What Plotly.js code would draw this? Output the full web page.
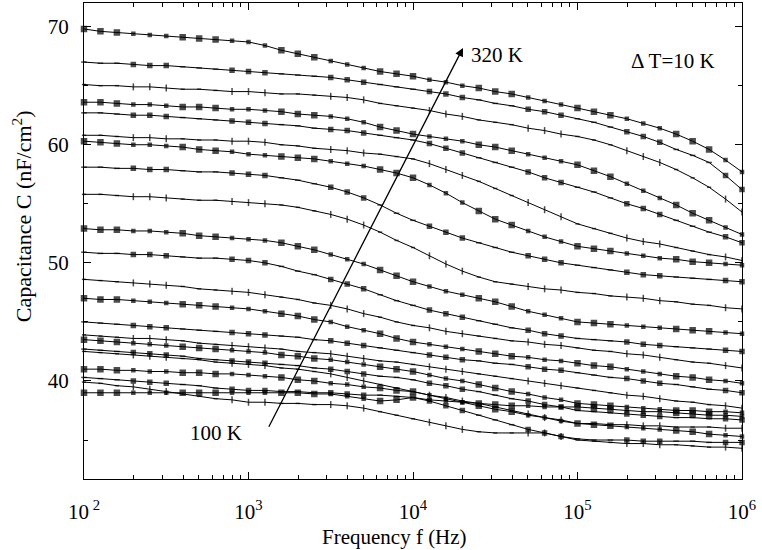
<!DOCTYPE html>
<html>
<head>
<meta charset="utf-8">
<script src="https://cdn.plot.ly/plotly-3.0.1.min.js"></script>
<style>html,body{margin:0;padding:0;background:#fff;}#chart{width:762px;height:550px;}</style>
</head>
<body>
<div id="chart"></div>
<script>
// Frequency grid (Hz)
var freq = [100, 125.9, 158.5, 199.5, 251.2, 316.2, 398.1, 501.2, 631.0, 794.3,
  1000, 1259, 1585, 1995, 2512, 3162, 3981, 5012, 6310, 7943,
  10000, 12589, 15849, 19953, 25119, 31623, 39811, 50119, 63096, 79433,
  100000, 125893, 158489, 199526, 251189, 316228, 398107, 501187, 630957, 794328,
  1000000];

// Capacitance curves (nF/cm^2), highest temperature first
var cA = [69.8,69.6,69.5,69.4,69.3, 69.2,69.1,69.0,68.9,68.8, 68.7,68.4,68.0,67.7,67.4, 67.1,66.8,66.5,66.2,66.0, 65.8,65.5,65.3,65.0,64.8, 64.5,64.3,64.0,63.7,63.4, 63.1,62.8,62.5,62.2,61.8, 61.4,60.9,60.3,59.6,58.7, 57.7];
var cB = [67.0,66.9,66.9,66.8,66.7, 66.7,66.6,66.5,66.4,66.3, 66.2,66.1,66.0,65.9,65.8, 65.7,65.5,65.3,65.1,64.9, 64.7,64.5,64.3,64.0,63.8, 63.5,63.3,63.0,62.8,62.5, 62.2,61.9,61.5,61.1,60.7, 60.2,59.6,59.1,58.5,57.4, 56.2];
var cC = [65.1,65.0,65.0,64.9,64.9, 64.8,64.7,64.7,64.6,64.5, 64.5,64.4,64.3,64.3,64.2, 64.1,64.0,63.8,63.5,63.3, 63.1,62.9,62.6,62.4,62.1, 61.9,61.7,61.4,61.2,60.9, 60.7,60.4,60.0,59.5,59.0, 58.5,57.9,57.2,56.4,55.4, 54.3];
var cD = [63.6,63.6,63.5,63.4,63.4, 63.3,63.2,63.2,63.1,63.0, 63.0,62.9,62.8,62.6,62.5, 62.4,62.2,61.9,61.5,61.2, 60.9,60.7,60.5,60.3,60.0, 59.8,59.5,59.2,58.9,58.6, 58.3,57.8,57.3,56.7,56.1, 55.5,54.9,54.2,53.6,53.0, 52.4];
var cE = [62.7,62.7,62.6,62.5,62.5, 62.4,62.3,62.2,62.1,62.0, 61.9,61.8,61.7,61.6,61.4, 61.3,61.2,61.0,60.8,60.6, 60.4,60.1,59.7,59.3,58.9, 58.5,58.1,57.7,57.2,56.8, 56.4,56.0,55.5,55.0,54.6, 54.1,53.6,53.1,52.6,52.2, 51.7];
var cF = [60.8,60.8,60.7,60.6,60.6, 60.5,60.5,60.4,60.4,60.3, 60.3,60.2,60.0,59.9,59.7, 59.6,59.5,59.3,59.2,59.0, 58.8,58.4,57.9,57.4,56.9, 56.3,55.7,55.1,54.5,53.9, 53.3,52.9,52.5,52.1,51.8, 51.6,51.3,51.0,50.7,50.5, 50.2];
var cG = [60.3,60.2,60.1,60.0,60.0, 59.9,59.8,59.6,59.5,59.4, 59.2,59.1,59.0,58.9,58.8, 58.6,58.4,58.2,57.9,57.6, 57.2,56.6,55.9,55.1,54.4, 53.7,53.2,52.7,52.2,51.8, 51.4,51.2,51.0,50.8,50.6, 50.4,50.3,50.1,50.0,49.9, 49.8];
var cH = [58.1,58.1,58.0,58.0,57.9, 57.9,57.8,57.7,57.7,57.6, 57.5,57.4,57.2,57.0,56.7, 56.4,56.0,55.5,54.9,54.2, 53.6,53.1,52.6,52.1,51.7, 51.3,50.9,50.6,50.3,50.0, 49.8,49.6,49.4,49.2,49.0, 48.9,48.8,48.7,48.6,48.5, 48.4];
var cI = [55.8,55.8,55.7,55.6,55.6, 55.5,55.4,55.3,55.3,55.2, 55.1,55.0,54.9,54.7,54.4, 54.1,53.7,53.2,52.6,51.9, 51.3,50.6,49.9,49.3,48.8, 48.4,48.2,48.0,47.8,47.7, 47.5,47.4,47.2,47.1,47.0, 46.8,46.7,46.5,46.4,46.2, 46.1];
var cJ = [52.9,52.8,52.8,52.7,52.7, 52.6,52.5,52.3,52.2,52.1, 52.0,51.9,51.7,51.4,51.1, 50.7,50.3,49.9,49.4,48.9, 48.4,48.0,47.6,47.3,47.0, 46.7,46.3,45.9,45.6,45.3, 45.0,44.9,44.8,44.7,44.6, 44.5,44.4,44.3,44.2,44.1, 44.0];
var cK = [50.9,50.8,50.8,50.7,50.7, 50.6,50.5,50.4,50.4,50.3, 50.2,50.0,49.7,49.3,49.0, 48.6,48.2,47.8,47.3,46.8, 46.4,46.0,45.7,45.4,45.1, 44.8,44.5,44.3,44.0,43.8, 43.6,43.5,43.4,43.3,43.1, 43.0,42.9,42.8,42.7,42.6, 42.5];
var cL = [48.6,48.5,48.4,48.3,48.2, 48.1,48.0,47.8,47.7,47.6, 47.5,47.3,47.1,46.9,46.6, 46.4,46.1,45.7,45.4,45.0, 44.7,44.5,44.2,44.0,43.8, 43.6,43.4,43.3,43.1,43.0, 42.8,42.6,42.5,42.3,42.2, 42.0,41.8,41.6,41.5,41.3, 41.1];
var cM = [47.0,46.9,46.9,46.8,46.7, 46.6,46.5,46.4,46.3,46.2, 46.1,45.9,45.7,45.5,45.2, 45.0,44.6,44.3,44.0,43.6, 43.3,43.1,42.9,42.7,42.5, 42.3,42.1,42.0,41.8,41.7, 41.5,41.3,41.2,41.0,40.8, 40.6,40.4,40.3,40.1,40.0, 39.8];
var cN = [45.0,44.9,44.8,44.7,44.6, 44.5,44.4,44.3,44.2,44.1, 44.0,43.9,43.8,43.7,43.5, 43.4,43.2,43.0,42.8,42.6, 42.4,42.2,42.0,41.8,41.7, 41.5,41.4,41.2,41.0,40.9, 40.7,40.5,40.3,40.2,40.0, 39.8,39.7,39.5,39.3,39.2, 39.0];
var cO = [43.9,43.8,43.7,43.6,43.6, 43.5,43.4,43.2,43.1,43.0, 42.9,42.8,42.7,42.5,42.4, 42.3,42.1,41.9,41.7,41.6, 41.4,41.2,41.0,40.8,40.6, 40.4,40.2,40.0,39.8,39.6, 39.4,39.2,39.0,38.8,38.7, 38.5,38.3,38.2,38.0,37.9, 37.7];
var cP = [43.5,43.4,43.3,43.2,43.1, 43.0,42.9,42.8,42.7,42.6, 42.5,42.4,42.2,42.1,41.9, 41.8,41.6,41.4,41.2,41.0, 40.8,40.5,40.2,40.0,39.7, 39.4,39.1,38.9,38.6,38.4, 38.1,38.0,37.9,37.8,37.7, 37.6,37.5,37.5,37.4,37.4, 37.3];
var cQ = [42.7,42.6,42.5,42.4,42.3, 42.2,42.1,41.9,41.8,41.7, 41.6,41.5,41.4,41.3,41.1, 41.0,40.8,40.6,40.4,40.3, 40.1,39.8,39.6,39.3,39.1, 38.8,38.5,38.3,38.0,37.8, 37.5,37.4,37.3,37.2,37.1, 37.0,36.9,36.9,36.8,36.8, 36.7];
var cR = [42.5,42.4,42.3,42.2,42.1, 42.0,41.9,41.8,41.6,41.5, 41.4,41.3,41.1,41.0,40.8, 40.6,40.3,40.0,39.7,39.4, 39.1,38.8,38.6,38.3,38.1, 37.8,37.5,37.2,36.9,36.7, 36.4,36.4,36.3,36.3,36.2, 36.2,36.1,36.1,36.1,36.0, 36.0];
var cS = [41.0,41.0,40.9,40.9,40.8, 40.8,40.7,40.7,40.6,40.6, 40.5,40.4,40.3,40.1,40.0, 39.8,39.7,39.5,39.4,39.2, 39.1,38.8,38.5,38.2,37.9, 37.6,37.4,37.1,36.9,36.6, 36.4,36.3,36.2,36.1,36.0, 35.9,35.8,35.7,35.5,35.4, 35.3];
var cT = [40.3,40.2,40.1,40.0,39.9, 39.8,39.7,39.6,39.4,39.3, 39.2,39.2,39.1,39.1,39.0, 39.0,38.9,38.8,38.8,38.7, 38.6,38.3,37.9,37.5,37.1, 36.7,36.3,35.9,35.6,35.3, 35.1,35.0,35.0,35.0,34.9, 34.9,34.9,34.9,34.8,34.8, 34.8];
var cU = [39.9,39.8,39.6,39.5,39.3, 39.1,38.9,38.7,38.5,38.4, 38.2,38.2,38.1,38.1,38.0, 38.0,37.9,37.7,37.4,37.1, 36.8,36.5,36.2,35.9,35.7, 35.6,35.6,35.6,35.6,35.3, 35.0,34.9,34.8,34.7,34.7, 34.6,34.6,34.5,34.4,34.4, 34.3];
var cV = [39.0,39.0,39.0,39.0,39.0, 39.0,39.0,39.0,39.0,39.0, 39.0,39.0,39.0,39.0,38.9, 38.9,38.7,38.5,38.3,38.4, 38.6,38.4,38.3,38.2,38.1, 38.0,37.9,37.9,37.8,37.8, 37.8,37.7,37.6,37.5,37.4, 37.4,37.3,37.2,37.1,37.1, 37.0];

var curves = [cA,cB,cC,cD,cE,cF,cG,cH,cI,cJ,cK,cL,cM,cN,cO,cP,cQ,cR,cS,cT,cU,cV];

// axis ticks
var xTickVals = [100, 1000, 10000, 100000, 1000000];
var xTickText = ['10<sup> 2</sup>', '10<sup>3</sup>', '10<sup>4</sup>', '10<sup>5</sup>', '10<sup>6</sup>'];
var yTickVals = [40, 50, 60, 70];
var yTickText = ['40', '50', '60', '70'];

// styling helpers (not data)
var symCycle = ['square', 'line-ns', 'line-ew', 'square', 'line-ew', 'square'];
var sizeCycle = [5, 5, 4, 3, 3, 4];

var xMinor = [];
for (var d = 100; d < 1000000; d *= 10) { for (var m = 2; m <= 9; m++) xMinor.push(d * m); }

var traces = curves.map(function (c, ci) {
  var syms = [], sizes = [];
  for (var i = 0; i < c.length; i++) {
    var k = (i * 5 + ci * 2 + (i % 3)) % symCycle.length;
    syms.push(symCycle[k]); sizes.push(sizeCycle[k]);
  }
  return {
    x: freq, y: c, type: 'scatter', mode: 'lines+markers',
    line: {color: '#000', width: 1},
    marker: {symbol: syms, size: sizes, color: '#000', line: {color: '#000', width: 1.5}},
    cliponaxis: false, showlegend: false, hoverinfo: 'skip'
  };
});

var serif = '"Liberation Serif", "Times New Roman", Times, serif';
var layout = {
  width: 762, height: 550,
  margin: {l: 84, r: 20, t: 3, b: 71},
  paper_bgcolor: '#fff', plot_bgcolor: '#fff',
  font: {family: serif, size: 20, color: '#000'},
  showlegend: false,
  xaxis: {
    type: 'log', range: [2, 6], tickmode: 'array', tickvals: xTickVals, ticktext: xTickText,
    ticks: 'inside', ticklen: 7, tickwidth: 1, tickcolor: '#000',
    showline: true, linecolor: '#000', linewidth: 1, mirror: 'ticks',
    showgrid: false, zeroline: false,
    minor: {tickmode: 'array', tickvals: xMinor, ticks: 'inside', ticklen: 4, tickwidth: 1, tickcolor: '#000', showgrid: false},
    tickfont: {family: serif, size: 21, color: '#000'}, ticklabelstandoff: 14
  },
  yaxis: {
    range: [31.7, 72.0], tickmode: 'array', tickvals: yTickVals, ticktext: yTickText,
    ticks: 'inside', ticklen: 7, tickwidth: 1, tickcolor: '#000',
    showline: true, linecolor: '#000', linewidth: 1, mirror: 'ticks',
    showgrid: false, zeroline: false,
    minor: {tickmode: 'array', tickvals: [35, 45, 55, 65], ticks: 'inside', ticklen: 4, tickwidth: 1, tickcolor: '#000', showgrid: false},
    tickfont: {family: serif, size: 21, color: '#000'}, ticklabelstandoff: 10
  },
  annotations: [
    {xref: 'x', yref: 'y', axref: 'x', ayref: 'y', x: 4.304, y: 68.2, ax: 3.119, ay: 36.0,
     text: '', showarrow: true, arrowhead: 2, arrowsize: 1.3, arrowwidth: 1.3, arrowcolor: '#000'},
    {xref: 'x', yref: 'y', x: 4.51, y: 67.6, text: '320 K', showarrow: false, font: {family: serif, size: 21, color: '#000'}},
    {xref: 'x', yref: 'y', x: 2.80, y: 35.6, text: '100 K', showarrow: false, font: {family: serif, size: 21, color: '#000'}},
    {xref: 'x', yref: 'y', x: 5.58, y: 67.1, text: '\u0394 T=10 K', showarrow: false, font: {family: serif, size: 21, color: '#000'}},
    {xref: 'paper', yref: 'paper', x: 0.4726, y: -0.122, xanchor: 'center', yanchor: 'middle',
     text: 'Frequency f (Hz)', showarrow: false, font: {family: serif, size: 21, color: '#000'}},
    {xref: 'paper', yref: 'paper', x: -0.094, y: 0.5525, xanchor: 'center', yanchor: 'middle', textangle: -90,
     text: 'Capacitance C (nF/cm<sup>2</sup>)', showarrow: false, font: {family: serif, size: 22, color: '#000'}}
  ]
};

Plotly.newPlot('chart', traces, layout, {displayModeBar: false, staticPlot: true});
</script>
</body>
</html>
